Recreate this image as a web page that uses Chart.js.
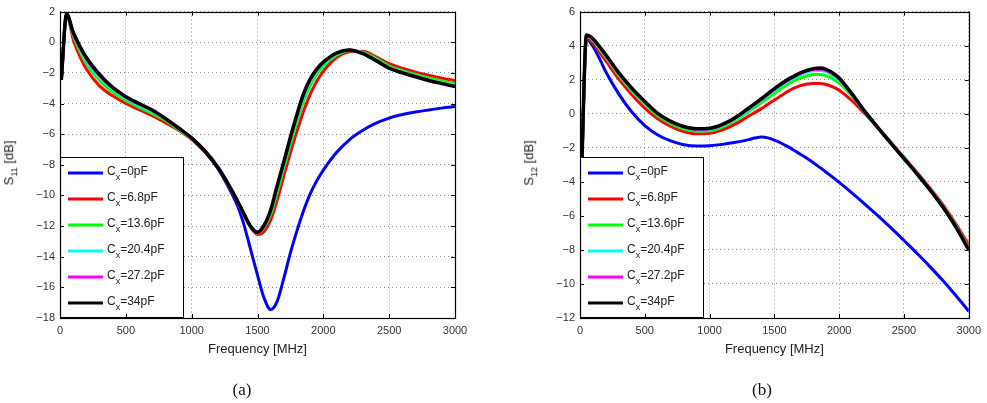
<!DOCTYPE html>
<html>
<head>
<meta charset="utf-8">
<script src="https://cdn.jsdelivr.net/npm/chart.js@4.4.1/dist/chart.umd.min.js"></script>
<style>
    body { margin: 0; width: 987px; height: 403px; overflow: hidden; background: #fff; position: relative;
           font-family: "Liberation Sans", Arial, sans-serif; }
    .wrap { position: absolute; top: 0; height: 403px; }
    .ylab { position: absolute; font-size: 13px; color: #222; white-space: nowrap;
            transform: translate(-50%, -50%) rotate(-90deg); }
    .ylab sub { font-size: 9px; }
    .cap { position: absolute; top: 380px; font-family: "Liberation Serif", "DejaVu Serif", serif;
           font-size: 17px; color: #111; transform: translateX(-50%); }
</style>
</head>
<body>
<div class="wrap" style="left:0;width:490px"><canvas id="chartA"></canvas></div>
<div class="wrap" style="left:520px;width:467px"><canvas id="chartB"></canvas></div>
<div class="ylab" style="left:10px;top:163px">S<sub>11</sub> [dB]</div>
<div class="ylab" style="left:530px;top:163px">S<sub>12</sub> [dB]</div>
<div class="cap" style="left:242px">(a)</div>
<div class="cap" style="left:762px">(b)</div>
<script>
// frequency points (MHz)
const freq = [10, 50, 100, 150, 200, 300, 400, 500, 600, 700, 800, 900, 1000, 1100, 1200, 1300,
    1350, 1400, 1450, 1500, 1550, 1600, 1650, 1700, 1750, 1800, 1850, 1900, 1950, 2000,
    2100, 2200, 2300, 2400, 2500, 2600, 2700, 2800, 2900, 3000];

const cxLabels = ["0pF", "6.8pF", "13.6pF", "20.4pF", "27.2pF", "34pF"];
const cxColors = ["#0000ff", "#ff0000", "#00ff00", "#00ffff", "#ff00ff", "#000000"];

// S11 [dB]
const s11_0pF = [-2.45, 1.83, 0.6, -0.35, -1.12, -2.2, -3.0, -3.6, -4.08, -4.5, -5.05, -5.65, -6.3, -7.15, -8.25, -9.8,
    -10.7, -12.0, -13.6, -15.2, -16.7, -17.45, -16.9, -15.4, -13.75, -12.3, -11.0, -9.9, -9.05, -8.35,
    -7.2, -6.35, -5.75, -5.28, -4.95, -4.72, -4.55, -4.42, -4.3, -4.2];
const s11_6p8pF = [-2.45, 1.8, 0.2, -0.9, -1.75, -2.85, -3.5, -4.0, -4.4, -4.8, -5.25, -5.75, -6.35, -7.15, -8.2, -9.65,
    -10.45, -11.35, -12.1, -12.55, -12.35, -11.6, -10.3, -8.7, -7.2, -5.8, -4.5, -3.4, -2.55, -1.9,
    -1.0, -0.62, -0.58, -0.95, -1.4, -1.7, -1.95, -2.15, -2.35, -2.5];
const s11_13p6pF = [-2.45, 1.82, 0.45, -0.58, -1.4, -2.5, -3.25, -3.8, -4.25, -4.65, -5.1, -5.7, -6.3, -7.1, -8.15, -9.6,
    -10.4, -11.3, -12.05, -12.45, -12.1, -11.25, -9.8, -8.2, -6.65, -5.2, -3.85, -2.85, -2.1, -1.55,
    -0.85, -0.55, -0.65, -1.05, -1.55, -1.85, -2.1, -2.33, -2.53, -2.72];
const s11_20p4pF = [-2.45, 1.84, 0.55, -0.4, -1.2, -2.28, -3.05, -3.65, -4.12, -4.52, -5.02, -5.62, -6.25, -7.05, -8.12, -9.6,
    -10.4, -11.27, -12.05, -12.42, -12.0, -11.05, -9.5, -7.95, -6.35, -4.9, -3.55, -2.58, -1.88, -1.4,
    -0.75, -0.52, -0.7, -1.15, -1.65, -1.95, -2.2, -2.45, -2.65, -2.85];
const s11_27p2pF = [-2.45, 1.85, 0.6, -0.32, -1.1, -2.18, -2.97, -3.6, -4.05, -4.45, -4.98, -5.6, -6.25, -7.08, -8.15, -9.6,
    -10.4, -11.25, -12.05, -12.4, -11.97, -10.98, -9.4, -7.85, -6.25, -4.78, -3.42, -2.48, -1.8, -1.33,
    -0.72, -0.5, -0.73, -1.18, -1.68, -1.98, -2.23, -2.48, -2.68, -2.88];
const s11_34pF = [-2.45, 1.85, 0.65, -0.25, -1.0, -2.1, -2.95, -3.55, -4.0, -4.42, -4.98, -5.6, -6.25, -7.1, -8.2, -9.6,
    -10.4, -11.25, -12.05, -12.4, -11.95, -10.95, -9.35, -7.8, -6.2, -4.7, -3.35, -2.4, -1.75, -1.3,
    -0.7, -0.5, -0.75, -1.2, -1.7, -2.0, -2.25, -2.5, -2.7, -2.9];

// S12 [dB]
const s12_0pF = [-4.0, 4.4, 3.95, 3.25, 2.45, 1.15, 0.1, -0.7, -1.25, -1.6, -1.82, -1.9, -1.88, -1.8, -1.68, -1.52,
    -1.43, -1.37, -1.42, -1.55, -1.72, -1.92, -2.14, -2.38, -2.62, -2.88, -3.15, -3.44, -3.73, -4.03,
    -4.66, -5.32, -6.0, -6.71, -7.45, -8.2, -8.98, -9.8, -10.68, -11.6];
const s12_6p8pF = [-4.0, 4.45, 4.15, 3.62, 3.1, 2.03, 1.12, 0.33, -0.3, -0.75, -1.05, -1.18, -1.15, -0.95, -0.6, -0.15,
    0.08, 0.3, 0.55, 0.8, 1.05, 1.3, 1.5, 1.65, 1.75, 1.78, 1.78, 1.72, 1.58, 1.38,
    0.75, -0.02, -0.83, -1.68, -2.55, -3.44, -4.36, -5.34, -6.48, -7.7];
const s12_13p6pF = [-4.0, 4.55, 4.3, 3.8, 3.3, 2.24, 1.33, 0.55, -0.12, -0.58, -0.88, -1.02, -1.0, -0.77, -0.38, 0.12,
    0.4, 0.66, 0.93, 1.2, 1.48, 1.72, 1.93, 2.1, 2.22, 2.3, 2.3, 2.22, 2.05, 1.8,
    1.03, 0.07, -0.83, -1.71, -2.6, -3.5, -4.43, -5.42, -6.58, -7.87];
const s12_20p4pF = [-4.0, 4.58, 4.35, 3.88, 3.38, 2.33, 1.43, 0.65, -0.04, -0.5, -0.8, -0.94, -0.92, -0.69, -0.3, 0.23,
    0.52, 0.8, 1.1, 1.38, 1.66, 1.9, 2.1, 2.3, 2.44, 2.52, 2.54, 2.46, 2.26, 1.99,
    1.1, 0.1, -0.83, -1.73, -2.62, -3.52, -4.46, -5.46, -6.63, -7.95];
const s12_27p2pF = [-4.0, 4.6, 4.38, 3.92, 3.42, 2.37, 1.47, 0.69, -0.01, -0.47, -0.77, -0.9, -0.88, -0.65, -0.25, 0.28,
    0.57, 0.85, 1.15, 1.44, 1.71, 1.96, 2.16, 2.36, 2.5, 2.6, 2.62, 2.54, 2.33, 2.05,
    1.13, 0.11, -0.83, -1.74, -2.63, -3.53, -4.47, -5.47, -6.64, -7.98];
const s12_34pF = [-4.0, 4.62, 4.4, 3.95, 3.45, 2.4, 1.5, 0.72, 0.02, -0.45, -0.75, -0.88, -0.85, -0.62, -0.22, 0.32,
    0.6, 0.88, 1.18, 1.48, 1.75, 2.0, 2.2, 2.4, 2.55, 2.65, 2.68, 2.6, 2.4, 2.1,
    1.15, 0.12, -0.83, -1.74, -2.63, -3.53, -4.47, -5.48, -6.65, -8.0];

const s11Series = [s11_0pF, s11_6p8pF, s11_13p6pF, s11_20p4pF, s11_27p2pF, s11_34pF];
const s12Series = [s12_0pF, s12_6p8pF, s12_13p6pF, s12_20p4pF, s12_27p2pF, s12_34pF];

const xTicks = [0, 500, 1000, 1500, 2000, 2500, 3000];

function fmtTick(v)
{
    return v < 0 ? "\u2212" + Math.abs(v) : String(v);
}

// legend box with C_x labels, drawn over the curves (like matlab)
const cxLegend = {
    id: "cxLegend",
    afterDatasetsDraw(chart) {
        const ctx = chart.ctx;
        const a = chart.chartArea;
        const w = 123, h = 161;
        const top = a.bottom - h;
        ctx.save();
        ctx.fillStyle = "#fff";
        ctx.fillRect(a.left, top, w, h);
        ctx.strokeStyle = "#000";
        ctx.lineWidth = 1;
        ctx.strokeRect(a.left + 0.5, top + 0.5, w, h - 1);
        ctx.textBaseline = "middle";
        for (let i = 0; i < cxLabels.length; i++) {
            const y = top + 16 + i * 26;
            ctx.strokeStyle = cxColors[i];
            ctx.lineWidth = 3;
            ctx.beginPath();
            ctx.moveTo(a.left + 8, y);
            ctx.lineTo(a.left + 43, y);
            ctx.stroke();
            let x = a.left + 47;
            ctx.fillStyle = "#222";
            ctx.font = "12px 'Liberation Sans', Arial, sans-serif";
            ctx.fillText("C", x, y - 1);
            x += ctx.measureText("C").width;
            ctx.font = "9px 'Liberation Sans', Arial, sans-serif";
            ctx.fillText("x", x, y + 5);
            x += ctx.measureText("x").width;
            ctx.font = "12px 'Liberation Sans', Arial, sans-serif";
            ctx.fillText("=" + cxLabels[i], x, y - 1);
        }
        ctx.restore();
    },
    afterDraw(chart) {
        const ctx = chart.ctx;
        const a = chart.chartArea;
        const xs = chart.scales.x, ys = chart.scales.y;
        ctx.save();
        ctx.strokeStyle = "#000";
        ctx.lineWidth = 1;
        ctx.beginPath();
        xs.ticks.forEach(t => {
            const px = Math.round(xs.getPixelForValue(t.value)) + 0.5;
            ctx.moveTo(px, a.bottom); ctx.lineTo(px, a.bottom - 4);
            ctx.moveTo(px, a.top); ctx.lineTo(px, a.top + 4);
        });
        ys.ticks.forEach(t => {
            const py = Math.round(ys.getPixelForValue(t.value)) + 0.5;
            ctx.moveTo(a.left, py); ctx.lineTo(a.left + 4, py);
            ctx.moveTo(a.right, py); ctx.lineTo(a.right - 4, py);
        });
        ctx.stroke();
        ctx.lineWidth = 1.2;
        ctx.strokeRect(Math.round(a.left) + 0.5, Math.round(a.top) + 0.5,
            Math.round(a.right - a.left), Math.round(a.bottom - a.top));
        ctx.restore();
    }
};

function makeChart(id, series, yMin, yMax, rightPad)
{
    const datasets = series.map((vals, i) => ({
        label: "Cx=" + cxLabels[i],
        data: freq.map((f, k) => ({ x: f, y: vals[k] })),
        borderColor: cxColors[i],
        borderWidth: i === 5 ? 3.5 : 3,
        pointRadius: 0,
        fill: false,
        cubicInterpolationMode: "monotone",
        order: series.length - 1 - i
    }));

    return new Chart(document.getElementById(id), {
        type: "line",
        data: { datasets: datasets },
        options: {
            responsive: true,
            maintainAspectRatio: false,
            animation: false,
            events: [],
            layout: { padding: { top: 7, right: rightPad, left: 0, bottom: 0 } },
            plugins: { legend: { display: false }, tooltip: { enabled: false } },
            scales: {
                x: {
                    type: "linear",
                    min: 0, max: 3000,
                    afterBuildTicks: (s) => { s.ticks = xTicks.map(v => ({ value: v })); },
                    afterFit: (s) => { s.height = 85; },
                    grid: { color: "rgba(0,0,0,0.45)", borderDash: [1, 3], drawTicks: false },
                    border: { display: false, dash: [1, 3] },
                    ticks: { padding: 6, color: "#333", callback: (v) => String(v),
                             font: { size: 11, family: "'Liberation Sans', Arial" } },
                    title: { display: true, text: "Frequency [MHz]", color: "#222",
                             font: { size: 13, family: "'Liberation Sans', Arial" },
                             padding: { top: 0, bottom: 46 } }
                },
                y: {
                    min: yMin, max: yMax,
                    ticks: { stepSize: 2, padding: 5, color: "#333", callback: fmtTick,
                             font: { size: 11, family: "'Liberation Sans', Arial" } },
                    afterFit: (s) => { s.width = 60; },
                    grid: { color: "rgba(0,0,0,0.45)", borderDash: [1, 3], drawTicks: false },
                    border: { display: false, dash: [1, 3] }
                }
            }
        },
        plugins: [cxLegend]
    });
}

makeChart("chartA", s11Series, -18, 2, 35);
makeChart("chartB", s12Series, -12, 6, 12);
</script>
</body>
</html>
